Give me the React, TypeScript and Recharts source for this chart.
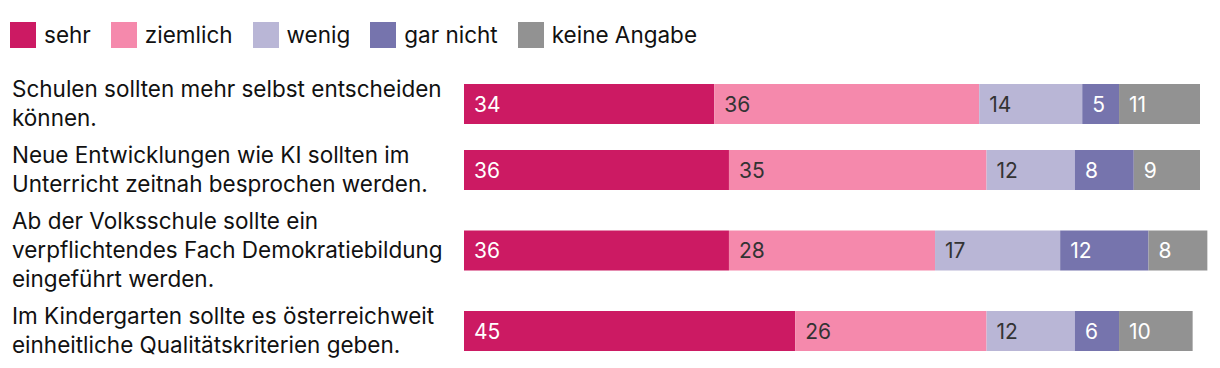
import React from 'react';
import { BarChart, Bar, XAxis, YAxis, Legend, LabelList } from 'recharts';

const statements: string[][] = [
  ['Schulen sollten mehr selbst entscheiden', 'können.'],
  ['Neue Entwicklungen wie KI sollten im', 'Unterricht zeitnah besprochen werden.'],
  ['Ab der Volksschule sollte ein', 'verpflichtendes Fach Demokratiebildung', 'eingeführt werden.'],
  ['Im Kindergarten sollte es österreichweit', 'einheitliche Qualitätskriterien geben.'],
];
const sehr = [34, 36, 36, 45];
const ziemlich = [36, 35, 28, 26];
const wenig = [14, 12, 17, 12];
const garNicht = [5, 8, 12, 6];
const keineAngabe = [11, 9, 8, 10];

const seriesNames = ['sehr', 'ziemlich', 'wenig', 'gar nicht', 'keine Angabe'];
const seriesKeys = ['sehr', 'ziemlich', 'wenig', 'garNicht', 'keineAngabe'];
const seriesColors = ['#CC1A63', '#F589AC', '#B9B6D6', '#7674AD', '#929292'];
const labelColors = ['#ffffff', '#333333', '#333333', '#ffffff', '#ffffff'];

const FONT = 'Inter, "Noto Sans", sans-serif';
const LINE_H = 29;
const ROW_PAD = 8;

// vertical layout: each row gets height proportional to its number of label lines
const rowHeights = statements.map((s) => s.length * LINE_H + ROW_PAD);
const positions: number[] = [];
{
  let acc = 0;
  rowHeights.forEach((h) => {
    positions.push(acc + h / 2);
    acc += h;
  });
}
const totalHeight = rowHeights.reduce((a, b) => a + b, 0);

const data = statements.map((s, i) => ({
  pos: positions[i],
  sehr: sehr[i],
  ziemlich: ziemlich[i],
  wenig: wenig[i],
  garNicht: garNicht[i],
  keineAngabe: keineAngabe[i],
}));
const maxTotal = Math.max(
  ...data.map((d) => d.sehr + d.ziemlich + d.wenig + d.garNicht + d.keineAngabe)
);

const CHART_W = 1212;
const CHART_H = 360;
const Y_W = 456;
const PX_PER_UNIT = 7.36;
const marginRight = CHART_W - Y_W - maxTotal * PX_PER_UNIT;
const marginTop = CHART_H - 4 - totalHeight;

const StatementTick = (props: any) => {
  const { y, payload } = props;
  const idx = positions.indexOf(payload.value);
  const lines = idx >= 0 ? statements[idx] : [];
  const n = lines.length;
  return (
    <text
      x={4}
      y={y}
      fontFamily={FONT}
      fontSize={22.5}
      fill="#111111"
      textAnchor="start"
    >
      {lines.map((l, i) => (
        <tspan
          key={i}
          x={4}
          y={y + (i - (n - 1) / 2) * LINE_H - 1.5}
          dominantBaseline="central"
        >
          {l}
        </tspan>
      ))}
    </text>
  );
};

const makeLabel = (color: string) => (props: any) => {
  const { x, y, height, value } = props;
  return (
    <text
      x={x + 10}
      y={y + height / 2}
      fill={color}
      fontFamily={FONT}
      fontSize={21}
      dominantBaseline="central"
      textAnchor="start"
    >
      {value}
    </text>
  );
};

const LegendContent = () => (
  <div style={{ display: 'flex', alignItems: 'center', fontFamily: FONT, fontSize: 22.5, color: '#111' }}>
    {seriesNames.map((n, i) => (
      <div key={n} style={{ display: 'flex', alignItems: 'center', marginRight: 20 }}>
        <div style={{ width: 26, height: 26, background: seriesColors[i], marginRight: 8 }} />
        <span>{n}</span>
      </div>
    ))}
  </div>
);

export default function App() {
  return (
    <BarChart
      width={CHART_W}
      height={CHART_H}
      data={data}
      layout="vertical"
      margin={{ top: marginTop, right: marginRight, bottom: 4, left: 0 }}
    >
      <XAxis type="number" hide domain={[0, maxTotal]} />
      <YAxis
        type="number"
        dataKey="pos"
        domain={[0, totalHeight]}
        ticks={positions}
        interval={0}
        width={Y_W}
        axisLine={false}
        tickLine={false}
        tick={<StatementTick />}
      />
      <Legend
        layout="vertical"
        align="center"
        verticalAlign="middle"
        wrapperStyle={{ top: 13, left: 2, width: 900 }}
        content={<LegendContent />}
      />
      {seriesKeys.map((k, i) => (
        <Bar
          key={k}
          dataKey={k}
          name={seriesNames[i]}
          stackId="a"
          fill={seriesColors[i]}
          barSize={40}
          isAnimationActive={false}
        >
          <LabelList dataKey={k} content={makeLabel(labelColors[i])} />
        </Bar>
      ))}
    </BarChart>
  );
}
